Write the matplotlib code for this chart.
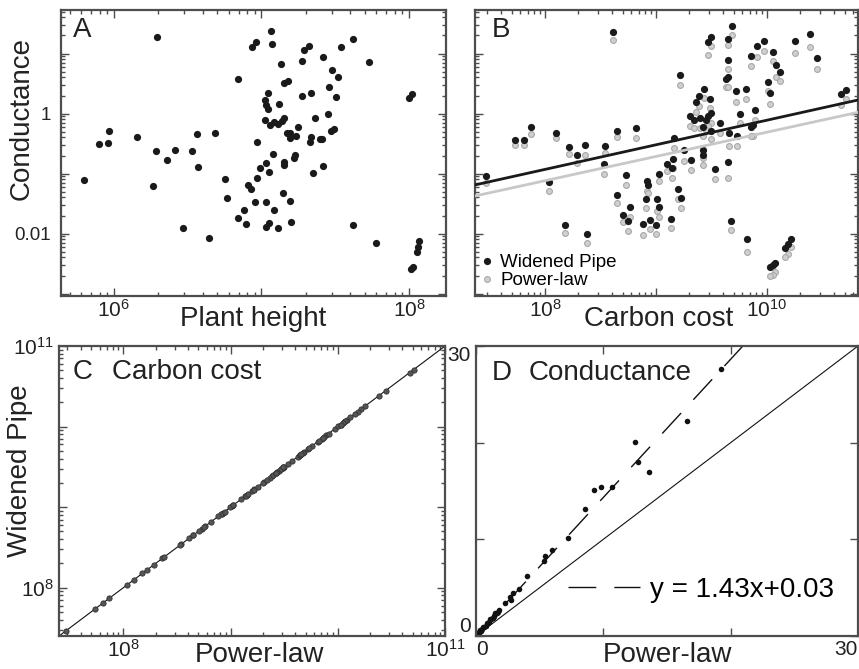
import numpy as np
import matplotlib.pyplot as plt
from matplotlib.ticker import LogLocator, NullFormatter, FixedLocator, FixedFormatter

plt.rcParams['font.family'] = ['Liberation Sans', 'DejaVu Sans']
plt.rcParams['mathtext.fontset'] = 'custom'
plt.rcParams['mathtext.rm'] = 'Liberation Sans'
plt.rcParams['mathtext.it'] = 'Liberation Sans:italic'
plt.rcParams['mathtext.bf'] = 'Liberation Sans:bold'

# --- panel A: conductance vs plant height
plant_height = [1.95e6, 6.3e5, 7.9e5, 9.1e5, 9.2e5, 1.43e6, 1.93e6, 1.85e6, 2.29e6, 2.59e6,
                3.4e6, 3.66e6, 3.71e6, 2.95e6, 4.43e6, 4.86e6, 5.63e6, 5.81e6, 6.9e6, 6.9e6,
                7.6e6, 7.85e6, 8.15e6, 8.5e6, 9.1e6, 8.6e6, 9.2e6, 9.4e6, 9.4e6, 9.85e6,
                1.16e7, 1.18e7, 1.35e7, 1.07e7, 1.12e7, 1.2e7, 1.08e7, 1.22e7, 1.07e7, 1.12e7,
                1.29e7, 1.58e7, 1.41e7, 1.55e7, 1.42e7, 1.42e7, 1.66e7, 1.69e7, 1.06e7, 1.15e7,
                1.22e7, 1.3e7, 1.37e7, 1.43e7, 1.48e7, 1.56e7, 1.56e7, 1.71e7, 1.78e7, 1.11e7,
                1.06e7, 1.07e7, 1.11e7, 1.31e7, 1.42e7, 1.51e7, 1.88e7, 2.18e7, 1.88e7, 1.95e7,
                2.11e7, 2.6e7, 3.0e7, 3.3e7, 2.88e7, 3.2e7, 2.32e7, 2.82e7, 2.94e7, 3.1e7,
                2.16e7, 2.13e7, 2.5e7, 2.58e7, 2.22e7, 2.61e7, 3.46e7, 4.17e7, 5.4e7, 4.19e7,
                6.0e7, 1.0e8, 1.05e8, 1.17e8, 1.15e8, 1.13e8, 1.03e8, 1.07e8]
conductance_a = [19, 0.079, 0.31, 0.32, 0.51, 0.40, 0.24, 0.062, 0.17, 0.25,
                 0.24, 0.45, 0.127, 0.0125, 0.0086, 0.48, 0.082, 0.039, 3.76, 0.018,
                 0.025, 0.0142, 0.064, 0.056, 0.0335, 13, 15.5, 0.335, 0.086, 0.124,
                 24, 14.6, 6.6, 0.151, 0.107, 0.214, 0.033, 0.0244, 0.0128, 0.015,
                 0.0124, 0.0154, 0.048, 0.035, 0.154, 0.14, 0.18, 0.206, 0.77, 0.65,
                 0.72, 0.67, 0.74, 0.86, 0.47, 0.48, 0.39, 0.42, 0.6, 2.17,
                 1.7, 1.37, 1.19, 1.44, 3.2, 3.5, 1.96, 2.17, 7.6, 11.3,
                 13.2, 8.7, 5.3, 4.06, 2.8, 1.88, 0.83, 0.98, 0.51, 0.55,
                 0.41, 0.34, 0.37, 0.38, 0.103, 0.135, 13, 17.3, 7.1, 0.0137,
                 0.0071, 1.81, 2.14, 0.0074, 0.006, 0.005, 0.0026, 0.0028]

# --- panel B: conductance vs carbon cost, two models
carbon_cost = [2.94e7, 5.4e7, 6.5e7, 7.4e7, 1.26e8, 1.08e8, 1.66e8, 1.93e8, 2.31e8, 1.5e8,
               2.38e8, 3.44e8, 3.4e8, 4.1e8, 4.46e8, 6.56e8, 5.4e8, 4.46e8, 5.8e8, 5.05e8,
               5.6e8, 8.3e8, 8.5e8, 8.2e8, 1.03e9, 1.06e9, 8.8e8, 7.7e8, 9.9e8, 1.06e9,
               1.36e9, 1.26e9, 1.42e9, 1.38e9, 1.58e9, 1.67e9, 1.64e9, 1.45e9, 1.79e9, 2.05e9,
               2.7e9, 2.43e9, 2.31e9, 2.01e9, 2.2e9, 2.48e9, 3.05e9, 3.11e9, 2.94e9, 2.84e9,
               2.65e9, 3.75e9, 3.15e9, 2.65e9, 2.65e9, 3.42e9, 2.94e9, 3.11e9, 4.86e9, 4.45e9,
               4.45e9, 4.25e9, 4.48e9, 4.48e9, 4.76e9, 5.22e9, 6.5e9, 5.7e9, 7.75e9, 7.5e9,
               7.1e9, 5.4e9, 4.55e9, 6.65e9, 7.2e9, 8.2e9, 9.4e9, 1.13e10, 1.21e10, 1.3e10,
               1.01e10, 1.06e10, 1.79e10, 2.43e10, 2.8e10, 4.67e10, 5.1e10, 1.64e10, 1.53e10, 1.44e10,
               1.17e10, 1.12e10, 1.06e10]
cond_widened = [0.092, 0.366, 0.366, 0.60, 0.47, 0.0714, 0.28, 0.203, 0.295, 0.014,
                0.0097, 0.284, 0.146, 22.8, 0.52, 0.57, 0.0955, 0.0443, 0.0277, 0.0206,
                0.016, 0.074, 0.0636, 0.038, 0.0376, 0.0277, 0.017, 0.0144, 0.014, 0.099,
                0.0174, 0.144, 0.174, 0.124, 0.0545, 0.039, 4.43, 0.39, 0.249, 0.17,
                2.56, 1.98, 1.54, 0.92, 0.79, 0.84, 1.74, 1.02, 0.90, 0.77,
                0.60, 0.69, 0.505, 0.249, 0.206, 0.119, 15.4, 18.6, 28.4, 17.4,
                7.9, 3.76, 4.06, 0.155, 0.016, 2.34, 2.56, 0.98, 1.16, 0.65,
                0.60, 0.427, 0.47, 0.0081, 8.98, 13.2, 16, 10.5, 6.36, 4.86,
                3.35, 2.2, 16, 21.1, 8.4, 2.11, 2.49, 0.0082, 0.0067, 0.0057,
                0.0032, 0.003, 0.0028]
cond_powerlaw = [0.0695, 0.30, 0.30, 0.455, 0.395, 0.0505, 0.214, 0.148, 0.203, 0.0101,
                 0.0069, 0.222, 0.099, 17, 0.41, 0.386, 0.065, 0.0322, 0.0186, 0.0157,
                 0.0111, 0.0505, 0.0473, 0.0263, 0.0237, 0.0188, 0.0119, 0.0095, 0.0098, 0.074,
                 0.0124, 0.109, 0.124, 0.084, 0.038, 0.0266, 2.95, 0.266, 0.163, 0.116,
                 1.81, 1.32, 1.06, 0.61, 0.57, 0.57, 1.24, 0.69, 0.62, 0.53,
                 0.42, 0.47, 0.376, 0.181, 0.14, 0.081, 9.55, 13.2, 20.1, 14.0,
                 5.5, 2.77, 2.77, 0.086, 0.0113, 1.57, 1.76, 0.69, 0.79, 0.417,
                 0.42, 0.29, 0.29, 0.0049, 6.12, 8.85, 11.1, 7.4, 4.06, 3.44,
                 2.34, 1.44, 10.2, 12.8, 5.5, 1.4, 1.76, 0.006, 0.0046, 0.0041,
                 0.00226, 0.00206, 0.00196]
# fitted lines in log-log space: log10(g) = slope * log10(cost) + intercept
fit_widened = (0.41, -4.21)
fit_powerlaw = (0.404, -4.35)

# --- panel D: conductance, power-law vs widened pipe
cond_pl_d = [19.23, 16.59, 12.49, 12.75, 13.57, 9.29, 9.81, 10.71, 8.57, 7.2,
             5.95, 5.45, 5.37, 3.97, 3.36, 2.91, 2.7, 2.72, 2.3, 1.77,
             1.51, 1.38, 1.11, 0.85, 0.58, 0.32, 0.02, 0.03, 0.05, 0.08,
             0.1, 0.15, 0.2, 0.26, 0.4, 0.47, 0.66, 0.75, 0.95, 1.02,
             1.2, 1.3, 1.45, 1.62, 1.7]
cond_wp_d = [27.65, 22.2, 20.1, 18.03, 16.98, 15.12, 15.37, 15.37, 13.09, 10.14,
             8.88, 8.32, 7.72, 6.25, 4.84, 4.42, 4.07, 3.72, 3.37, 2.74,
             2.39, 2.11, 1.76, 1.33, 0.98, 0.63, 0.03, 0.05, 0.07, 0.1,
             0.14, 0.21, 0.3, 0.38, 0.57, 0.68, 0.95, 1.08, 1.37, 1.47,
             1.72, 1.86, 2.07, 2.33, 2.45]
fit_d = (1.43, 0.03)

FRAME = '#4d4d4d'
TXT = '#222222'


def style(ax):
    for s in ax.spines.values():
        s.set_color(FRAME)
        s.set_linewidth(1.6)
    ax.tick_params(which='both', direction='in', top=True, right=True,
                   color=FRAME, labelcolor=TXT, labelsize=15, width=1)
    ax.tick_params(which='major', length=6)
    ax.tick_params(which='minor', length=3)


def log_ticks(axis, decades, labels):
    axis.set_major_locator(FixedLocator(decades))
    axis.set_major_formatter(FixedFormatter(labels))
    axis.set_minor_locator(LogLocator(base=10, subs=np.arange(2, 10), numticks=60))
    axis.set_minor_formatter(NullFormatter())


fig = plt.figure(figsize=(8.59, 6.69), dpi=100)
axA = fig.add_axes([0.0710, 0.5575, 0.4482, 0.4275])
axB = fig.add_axes([0.5530, 0.5575, 0.4459, 0.4275])
axC = fig.add_axes([0.0687, 0.0493, 0.4494, 0.4335])
axD = fig.add_axes([0.5541, 0.0493, 0.4447, 0.4335])

ylim_g = (10 ** -3.04, 10 ** 1.725)
y_dec = [1e-3, 1e-2, 1e-1, 1, 10]

# A
axA.plot(plant_height, conductance_a, 'o', color='#1a1a1a', ms=5.2, mec='none')
axA.set_xscale('log')
axA.set_yscale('log')
axA.set_xlim(10 ** 5.641, 10 ** 8.251)
axA.set_ylim(*ylim_g)
style(axA)
log_ticks(axA.xaxis, [1e5, 1e6, 1e7, 1e8], ['', '$10^{6}$', '', '$10^{8}$'])
log_ticks(axA.yaxis, y_dec, ['', '0.01', '', '1', ''])
axA.tick_params(axis='x', pad=2)
axA.tick_params(axis='y', pad=7, labelsize=13.5)
axA.set_xlabel('Plant height', fontsize=20, color=TXT)
axA.xaxis.set_label_coords(0.5, -0.035)
axA.set_ylabel('Conductance', fontsize=20, color=TXT)
axA.yaxis.set_label_coords(-0.068, 0.62)
axA.text(0.03, 0.975, 'A', transform=axA.transAxes, fontsize=20, color=TXT, va='top')

# B
axB.plot(carbon_cost, cond_powerlaw, 'o', color='#cfcfcf', ms=4.2, mec='#a8a8a8', mew=0.8,
         label='Power-law', zorder=2)
axB.plot(carbon_cost, cond_widened, 'o', color='#1a1a1a', ms=5.2, mec='none',
         label='Widened Pipe', zorder=3)
axB.set_xscale('log')
axB.set_yscale('log')
xlB = (10 ** 7.369, 10 ** 10.82)
axB.set_xlim(*xlB)
axB.set_ylim(*ylim_g)
lx = np.log10(np.array(xlB))
axB.plot(10 ** lx, 10 ** (fit_widened[0] * lx + fit_widened[1]), color='#1a1a1a', lw=2, zorder=4)
axB.plot(10 ** lx, 10 ** (fit_powerlaw[0] * lx + fit_powerlaw[1]), color='#c8c8c8', lw=2, zorder=4)
style(axB)
log_ticks(axB.xaxis, [1e8, 1e9, 1e10], ['$10^{8}$', '', '$10^{10}$'])
log_ticks(axB.yaxis, y_dec, ['', '', '', '', ''])
axB.tick_params(axis='x', pad=2)
axB.set_xlabel('Carbon cost', fontsize=20, color=TXT)
axB.xaxis.set_label_coords(0.48, -0.035)
h, l = axB.get_legend_handles_labels()
axB.legend(h[::-1], l[::-1], loc='lower left', frameon=False, fontsize=13.5,
           handlelength=0.6, handletextpad=0.4, labelspacing=0.05,
           borderaxespad=0.15, borderpad=0.2)
axB.text(0.044, 0.975, 'B', transform=axB.transAxes, fontsize=20, color=TXT, va='top')

# C
limC = (10 ** 7.40, 10 ** 11.0)
axC.plot(limC, limC, color='#111111', lw=0.8, zorder=2)
axC.plot(carbon_cost, carbon_cost, 'o', color='#555555', ms=3.8, mec='#333333', mew=0.6, zorder=3)
axC.set_xscale('log')
axC.set_yscale('log')
axC.set_xlim(*limC)
axC.set_ylim(*limC)
style(axC)
c_dec = [1e8, 1e9, 1e10, 1e11]
log_ticks(axC.xaxis, c_dec, ['$10^{8}$', '', '', '$10^{11}$'])
log_ticks(axC.yaxis, c_dec, ['$10^{8}$', '', '', '$10^{11}$'])
axC.tick_params(axis='x', pad=2)
axC.tick_params(axis='y', pad=4)
axC.set_xlabel('Power-law', fontsize=20, color=TXT)
axC.xaxis.set_label_coords(0.52, -0.02)
axC.set_ylabel('Widened Pipe', fontsize=20, color=TXT)
axC.yaxis.set_label_coords(-0.067, 0.57)
axC.text(0.035, 0.955, 'C', transform=axC.transAxes, fontsize=20, color=TXT, va='top')
axC.text(0.137, 0.955, 'Carbon cost', transform=axC.transAxes, fontsize=20, color=TXT, va='top')

# D
xd = np.array([0, (30 - fit_d[1]) / fit_d[0]])
axD.plot([0, 30], [0, 30], color='#111111', lw=0.8)
axD.plot(xd, fit_d[0] * xd + fit_d[1], color='#111111', lw=1, dashes=(20, 13),
         label='y = 1.43x+0.03')
axD.plot(cond_pl_d, cond_wp_d, 'o', color='#111111', ms=4, mec='none')
axD.set_xlim(0, 30)
axD.set_ylim(0, 30)
style(axD)
axD.xaxis.set_major_locator(FixedLocator([0, 10, 20, 30]))
axD.xaxis.set_major_formatter(FixedFormatter(['0', '', '', '30']))
axD.yaxis.set_major_locator(FixedLocator([0, 10, 20, 30]))
axD.yaxis.set_major_formatter(FixedFormatter(['0', '', '', '30']))
axD.tick_params(axis='both', labelsize=15)
axD.tick_params(axis='x', pad=3)
axD.tick_params(axis='y', pad=4)
ylabs = axD.get_yticklabels()
ylabs[0].set_va('bottom')
ylabs[-1].set_va('top')
xlabs = axD.get_xticklabels()
xlabs[0].set_ha('left')
xlabs[-1].set_ha('right')
axD.set_xlabel('Power-law', fontsize=20, color=TXT)
axD.xaxis.set_label_coords(0.5, -0.02)
axD.legend(loc='center left', bbox_to_anchor=(0.24, 0.16), frameon=False, fontsize=20,
           handlelength=2.6, handletextpad=0.35, borderpad=0, borderaxespad=0)
axD.text(0.041, 0.952, 'D', transform=axD.transAxes, fontsize=20, color=TXT, va='top')
axD.text(0.137, 0.952, 'Conductance', transform=axD.transAxes, fontsize=20, color=TXT, va='top')

fig.savefig('out.png', dpi=100)
